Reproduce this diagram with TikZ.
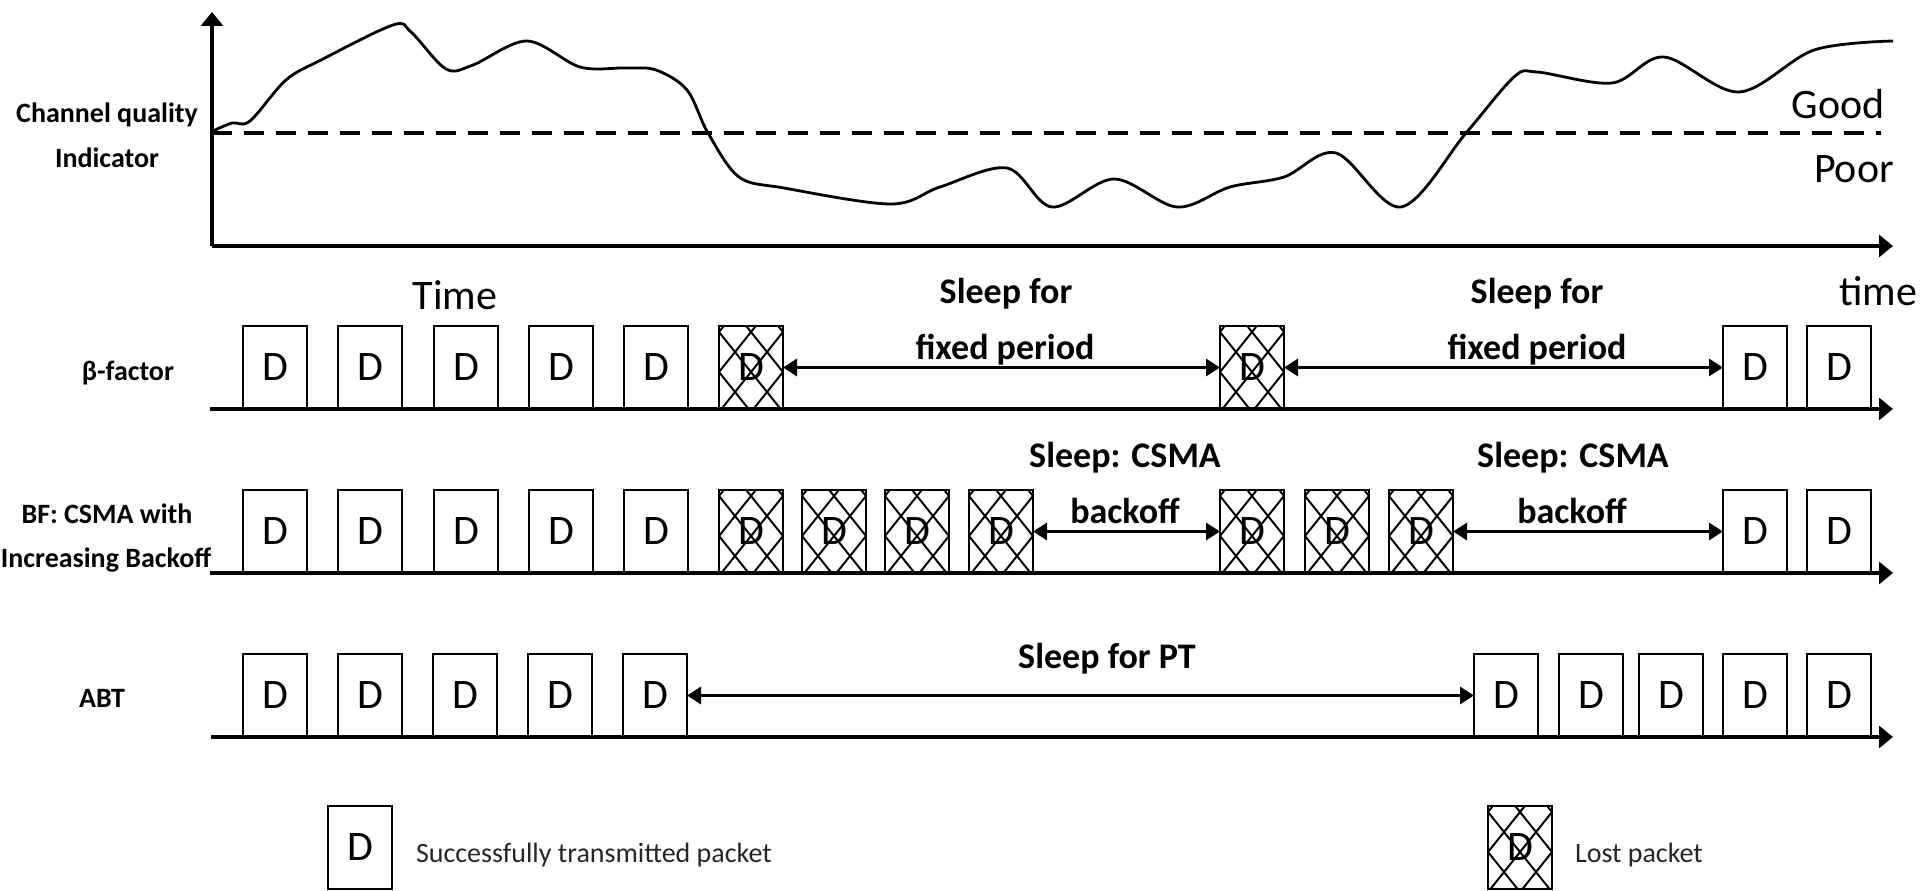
\documentclass[tikz,border=0pt]{standalone}
\usepackage{fontspec}
\setmainfont{Carlito}
\usetikzlibrary{arrows.meta}
\begin{document}
\begin{tikzpicture}[x=1pt,y=-1pt,
  every node/.style={inner sep=0pt, outer sep=0pt},
  pkt/.style={draw, line width=2.6pt, minimum width=64pt, minimum height=83pt, anchor=south west, font=\fontsize{42}{42}\selectfont},
  lost/.style={pkt, path picture={%
      \foreach \k in {-4,...,4}{%
        \draw[line width=2pt] ([xshift=\k*32pt-80pt, yshift=-106pt]path picture bounding box.north west) -- ++(160pt,200pt);
        \draw[line width=2pt] ([xshift=\k*32pt+112pt, yshift=-106pt]path picture bounding box.north west) -- ++(-160pt,200pt);
      }}},
  axis/.style={line width=3.2pt, -{Triangle[length=14pt,width=22pt]}},
  sleep/.style={line width=3pt, {Triangle[length=14pt,width=17pt]}-{Triangle[length=14pt,width=17pt]}},
  lbl/.style={font=\bfseries\fontsize{28}{28}\selectfont, anchor=base},
  slp/.style={font=\bfseries\fontsize{36}{36}\selectfont, anchor=base},
  big/.style={font=\fontsize{42}{42}\selectfont, anchor=base},
  leg/.style={font=\fontsize{28}{28}\selectfont, anchor=base west, text=black!85},
]
\useasboundingbox (0,0) rectangle (1920,891);

% ---------- channel quality chart ----------
\coordinate (O) at (212,246);
\coordinate (Ytop) at (212,12);
\coordinate (Xend) at (1893,246);
\draw[axis] (O) -- (Ytop);
\draw[axis] (O) -- (Xend);
\coordinate (Ds) at (212,133);
\coordinate (De) at (1881,133);
\draw[line width=3.5pt, dash pattern=on 20pt off 12pt] (Ds) -- (De);
\draw[line width=2.8pt] plot[smooth, tension=0.55] coordinates {
 (213,131) (232,123) (250,121) (286,80) (321,60) (393,25) (411,32) (446,69)
 (473,65) (527,41) (580,67) (625,68) (656,70) (687,90) (708,133) (739,177)
 (784,188) (891,204) (940,187) (1007,168) (1052,207) (1114,179) (1177,207)
 (1230,187) (1284,177) (1336,153) (1401,207) (1466,133) (1514,77) (1537,72)
 (1612,83) (1664,57) (1739,92) (1814,50) (1893,41)};

\node[lbl] (cq1) at (107,122) {Channel quality};
\node[lbl] (cq2) at (107,167) {Indicator};
\node[big] (good) at (1838,118) {Good};
\node[big] (poor) at (1854,182) {Poor};
\node[big] (time1) at (455,309) {Time};
\node[big] (time2) at (1878,305) {time};

% ---------- beta-factor row ----------
\coordinate (as) at (210,409);
\coordinate (ae) at (1893,409);
\draw[axis] (as) -- (ae);
\foreach \x [count=\i] in {243,338,434,529,624}{\node[pkt] (a\i) at (\x,409) {D};}
\node[lost] (a6) at (719,409) {D};
\node[lost] (a7) at (1220,409) {D};
\node[pkt] (a8) at (1723,409) {D};
\node[pkt] (a9) at (1807,409) {D};
\draw[sleep] (a6.east) -- (a7.west);
\draw[sleep] (a7.east) -- (a8.west);
\node[lbl] (lb) at (128,380) {β-factor};
\node[slp] (s1a) at (1006,303) {Sleep for};
\node[slp] (s1b) at (1005,359) {fixed period};
\node[slp] (s2a) at (1537,303) {Sleep for};
\node[slp] (s2b) at (1537,359) {fixed period};

% ---------- BF row ----------
\coordinate (bs) at (210,573);
\coordinate (be) at (1893,573);
\draw[axis] (bs) -- (be);
\foreach \x [count=\i] in {243,338,434,529,624}{\node[pkt] (b\i) at (\x,573) {D};}
\foreach \x [count=\i from 6] in {719,802,885,969,1220,1305,1389}{\node[lost] (b\i) at (\x,573) {D};}
\node[pkt] (b13) at (1723,573) {D};
\node[pkt] (b14) at (1807,573) {D};
\draw[sleep] (b9.east) -- (b10.west);
\draw[sleep] (b12.east) -- (b13.west);
\node[lbl] (lbf1) at (107,523) {BF: CSMA with};
\node[lbl] (lbf2) at (106,567) {Increasing Backoff};
\node[slp] (s3a) at (1125,467) {Sleep: CSMA};
\node[slp] (s3b) at (1125,523) {backoff};
\node[slp] (s4a) at (1573,467) {Sleep: CSMA};
\node[slp] (s4b) at (1572,523) {backoff};

% ---------- ABT row ----------
\coordinate (cs) at (211,737);
\coordinate (ce) at (1893,737);
\draw[axis] (cs) -- (ce);
\foreach \x [count=\i] in {243,338,433,528,623,1474,1559,1639,1723,1807}{\node[pkt] (c\i) at (\x,737) {D};}
\draw[sleep] (c5.east) -- (c6.west);
\node[lbl] (labt) at (102,707) {ABT};
\node[slp] (s5) at (1107,668) {Sleep for PT};

% ---------- legend ----------
\node[pkt] (l1) at (328,889) {D};
\node[leg] (l1t) at (416,862) {Successfully transmitted packet};
\node[lost] (l2) at (1488,889) {D};
\node[leg] (l2t) at (1575,862) {Lost packet};
\end{tikzpicture}
\end{document}
